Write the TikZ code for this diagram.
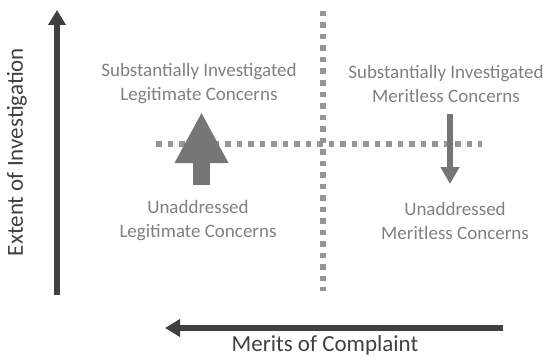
\documentclass[tikz,border=0pt]{standalone}
\usepackage{fontspec}
\setmainfont{Carlito}
\usepackage{xcolor}
\usepackage{tikz}
\usetikzlibrary{arrows.meta,positioning}

\definecolor{axisgray}{RGB}{64,64,64}
\definecolor{labelgray}{RGB}{128,128,128}
\definecolor{dotgray}{RGB}{150,150,150}
\definecolor{trendgray}{RGB}{118,118,118}

\begin{document}
\begin{tikzpicture}[x=1pt,y=1pt,
 axis/.style={-{Triangle[width=17pt,length=15pt]},line width=6pt,axisgray},
 grid/.style={line width=5.5pt,dotgray,dash pattern=on 5.5pt off 6pt},
 quad/.style={align=center,labelgray,font=\fontsize{19}{24}\selectfont},
 axlabel/.style={axisgray,font=\fontsize{23}{28}\selectfont}]
\useasboundingbox (0,0) rectangle (549,357);
% axes
\coordinate (ybot) at (57,62); \coordinate (ytop) at (57,347);
\coordinate (xright) at (503,29); \coordinate (xleft) at (165,29);
\draw[axis] (ybot) -- (ytop);
\draw[axis] (xright) -- (xleft);
\node[axlabel,rotate=90] (ylab) at (17,205) {Extent of Investigation};
\node[axlabel] (xlab) at (325,12) {Merits of Complaint};
% dotted quadrant lines
\coordinate (vtop) at (323,346); \coordinate (vbot) at (323,66);
\coordinate (hleft) at (156,213); \coordinate (hright) at (482,213);
\draw[grid] (vtop) -- (vbot);
\draw[grid] (hleft) -- (hright);
% quadrant labels
\node[quad] (sil) at (199,273) {Substantially Investigated\\Legitimate Concerns};
\node[quad] (sim) at (446,273) {Substantially Investigated\\Meritless Concerns};
\node[quad] (ual) at (198,136) {Unaddressed\\Legitimate Concerns};
\node[quad] (uam) at (455,136) {Unaddressed\\Meritless Concerns};
% trend arrows
\coordinate (upfrom) at (201.5,172); \coordinate (upto) at (201.5,245);
\coordinate (downfrom) at (450,243); \coordinate (downto) at (450,173);
\draw[-{Triangle[width=50pt,length=51pt]},line width=17pt,trendgray] (upfrom) -- (upto);
\draw[-{Triangle[width=18pt,length=17pt]},line width=5.5pt,trendgray] (downfrom) -- (downto);
\end{tikzpicture}
\end{document}
